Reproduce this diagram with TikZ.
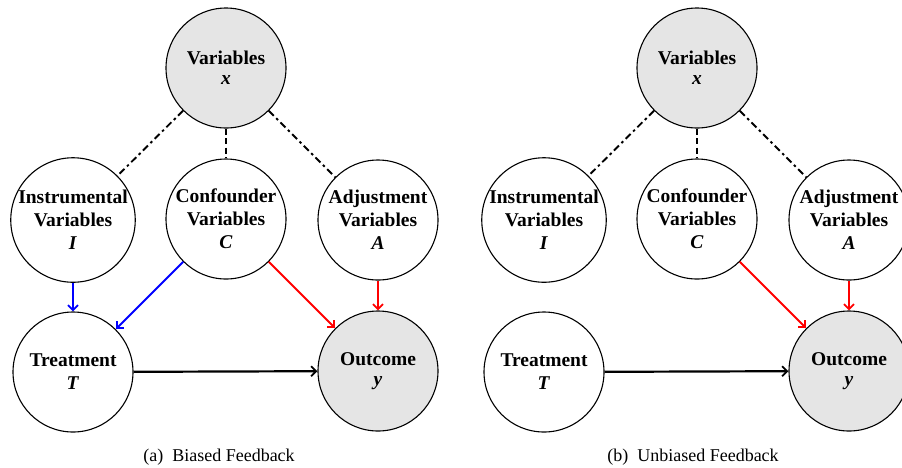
\documentclass[tikz,border=0pt]{standalone}
\usepackage{fontspec}
\setmainfont{Liberation Serif}
\usetikzlibrary{arrows.meta}
\tikzset{
  vnode/.style={circle, draw=black, line width=1.1pt, fill=white, minimum size=120pt, inner sep=0pt, align=center, font=\fontsize{19.5}{23}\selectfont\bfseries},
  obs/.style={vnode, fill=black!10},
  assoc/.style={line width=1.9pt, dash pattern=on 7pt off 3.5pt on 2.5pt off 3.5pt},
  assocd/.style={line width=1.9pt, dash pattern=on 6pt off 3.5pt},
  arr/.style={line width=1.9pt, -{Straight Barb[length=5pt,width=10pt,line width=1.9pt]}},
  blu/.style={arr, draw={rgb,255:red,0;green,0;blue,255}},
  rd/.style={arr, draw={rgb,255:red,255;green,0;blue,0}},
  blk/.style={arr, line width=2.2pt},
  captext/.style={font=\fontsize{18}{20}\selectfont}
}
\begin{document}
\begin{tikzpicture}[x=1pt,y=-1pt]
\useasboundingbox (0,0) rectangle (902,467);
\clip (0,0) rectangle (902,467);
% panel (a)
\begin{scope}
\node[obs] (X) at (226,68) {Variables\\[-3pt]\textit{x}};
\node[vnode] (I) at (73,220) {Instrumental\\Variables\\\textit{I}};
\node[vnode] (C) at (226,219) {Confounder\\Variables\\\textit{C}};
\node[vnode] (A) at (378,220) {Adjustment\\Variables\\\textit{A}};
\node[vnode] (T) at (73,372) {Treatment\\\textit{T}};
\node[obs] (Y) at (378,371) {Outcome\\[-3pt]\textit{y}};
\draw[assoc] (X) -- (I);
\draw[assocd] (X) -- (C);
\draw[assoc] (X) -- (A);
\draw[blu] (I) -- (T);
\draw[blu] (C) -- (T);
\draw[rd] (C) -- (Y);
\draw[rd] (A) -- (Y);
\draw[blk] (T) -- (Y);
\node[captext] (capa) at (219,457) {(a)\ \ Biased Feedback};
\end{scope}
% panel (b)
\begin{scope}[xshift=471pt]
\node[obs] (X2) at (226,68) {Variables\\[-3pt]\textit{x}};
\node[vnode] (I2) at (73,220) {Instrumental\\Variables\\\textit{I}};
\node[vnode] (C2) at (226,219) {Confounder\\Variables\\\textit{C}};
\node[vnode] (A2) at (378,220) {Adjustment\\Variables\\\textit{A}};
\node[vnode] (T2) at (73,372) {Treatment\\\textit{T}};
\node[obs] (Y2) at (378,371) {Outcome\\[-3pt]\textit{y}};
\draw[assoc] (X2) -- (I2);
\draw[assocd] (X2) -- (C2);
\draw[assoc] (X2) -- (A2);
\draw[rd] (C2) -- (Y2);
\draw[rd] (A2) -- (Y2);
\draw[blk] (T2) -- (Y2);
\node[captext] (capb) at (222,457) {(b)\ \ Unbiased Feedback};
\end{scope}
\end{tikzpicture}
\end{document}
